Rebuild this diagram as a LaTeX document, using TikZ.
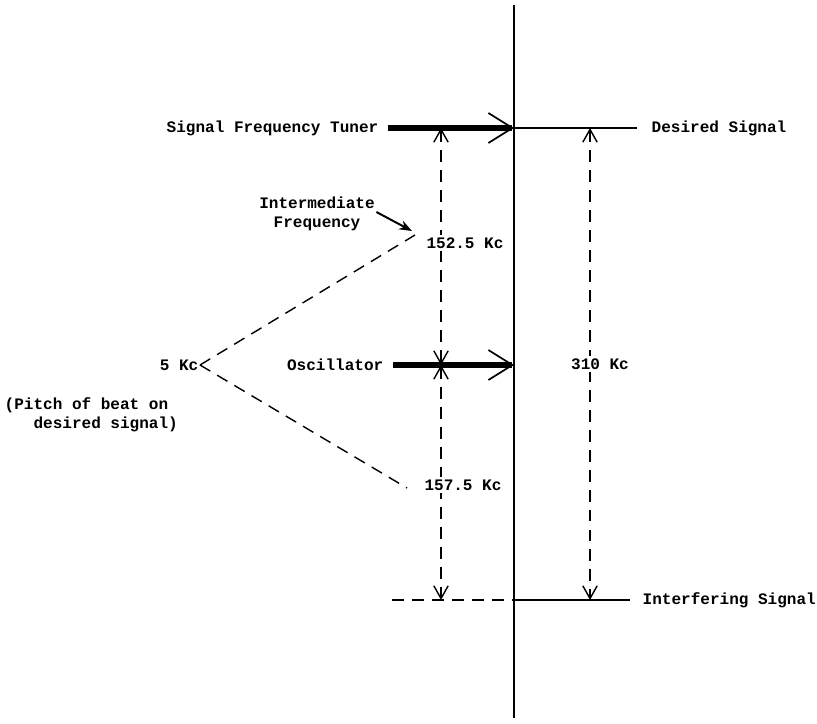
\documentclass[tikz,border=0pt]{standalone}
\usepackage{fontspec}
\setmonofont{Liberation Mono}
\usetikzlibrary{arrows.meta}

\begin{document}
\begin{tikzpicture}[
    x=0.025cm, y=-0.025cm,   % one unit = one pixel of the sketch
    lbl/.style = {
        font = \ttfamily\bfseries\fontsize{11.4}{13.5}\selectfont,
        inner sep = 1pt
    },
    tag/.style = {lbl, fill = white, inner sep = 2pt},
    axis/.style = {line width = 2pt},
    level/.style = {line width = 1pt},
    dashes/.style = {line width = 1pt, dash pattern = on 8.5pt off 5.7pt},
    feed/.style = {
        line width = 4.5pt, shorten <= 6pt,
        -{Straight Barb[length = 6mm, width = 7.5mm, line width = 1.2pt]}
    },
    span/.style = {
        dashes,
        {Straight Barb[length = 3.2mm, width = 3.6mm, line width = 1pt]}-%
        {Straight Barb[length = 3.2mm, width = 3.6mm, line width = 1pt]}
    },
    pointer/.style = {line width = 1.4pt, -{Stealth[length = 3.2mm, width = 2.4mm]}}
]
\useasboundingbox (0,0) rectangle (817,724);

% --- Fixed points on the dial line ---
\coordinate (top)      at (514,   5);
\coordinate (bottom)   at (514, 718);
\coordinate (tunerTip) at (514, 128);
\coordinate (oscTip)   at (514, 365);
\coordinate (desEnd)   at (637, 128);
\coordinate (intStart) at (392, 600);
\coordinate (intMid)   at (514, 600);
\coordinate (intEnd)   at (630, 600);

\coordinate (ifTop)    at (441, 128);
\coordinate (ifMid)    at (441, 365);
\coordinate (ifLow)    at (441, 600);
\coordinate (imgTop)   at (590, 128);
\coordinate (imgLow)   at (590, 600);

\coordinate (beatUp)   at (415, 235);
\coordinate (beatDn)   at (407, 488);
\coordinate (ifTip)    at (412, 231);

% --- Text labels ---
\node[lbl, anchor = east] (tuner)   at (380, 128) {Signal Frequency Tuner};
\node[lbl, anchor = west] (desired) at (650, 128) {Desired Signal};
\node[lbl, anchor = east] (osc)     at (385, 365) {Oscillator};
\node[lbl, anchor = west] (interf)  at (641, 600) {Interfering Signal};
\node[lbl, anchor = east] (beat)    at (200, 365) {5 Kc};
\node[lbl, align = left, anchor = north west] (pitch) at (3, 396)
    {(Pitch of beat on\\\phantom{(Pi}desired signal)};
\node[lbl, align = center] (ifname) at (317, 214) {Intermediate\\Frequency};

% --- Main dial and signal levels ---
\draw[axis]   (top) -- (bottom);
\draw[level]  (tunerTip) -- (desEnd);
\draw[dashes] (intStart) -- (intMid);
\draw[level]  (intMid) -- (intEnd);

% --- Tuner and oscillator settings ---
\draw[feed] (tuner) -- (tunerTip);
\draw[feed] (osc) -- (oscTip);

% --- Frequency spans ---
\draw[span] (ifTop) -- (ifMid);
\draw[span] (ifMid) -- (ifLow);
\draw[span] (imgTop) -- (imgLow);

\node[tag] (ifA)  at (465, 243) {152.5 Kc};
\node[tag] (ifB)  at (463, 485) {157.5 Kc};
\node[tag] (img)  at (600, 364) {310 Kc};

% --- Beat note ---
\draw[dashes] (beat.east) -- (beatUp);
\draw[dashes] (beat.east) -- (beatDn);
\draw[pointer] (ifname.east) ++(0,-2) -- (ifTip);

\end{tikzpicture}
\end{document}
